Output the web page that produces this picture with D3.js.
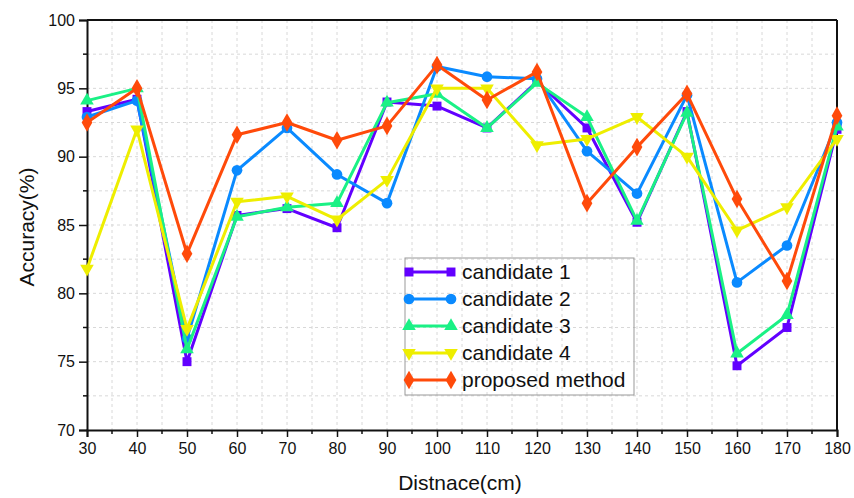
<!DOCTYPE html>
<html>
<head>
<meta charset="utf-8">
<script src="https://cdn.jsdelivr.net/npm/d3@7"></script>
<style>
  body { margin: 0; background: #fff; }
  text { font-family: "Liberation Sans", Arial, sans-serif; fill: #111; }
</style>
</head>
<body>
<svg id="chart" width="854" height="498"></svg>
<script>
// Chart data
const distances = [30, 40, 50, 60, 70, 80, 90, 100, 110, 120, 130, 140, 150, 160, 170, 180];
const candidate1 = [93.3, 94.2, 75.0, 85.7, 86.2, 84.8, 94.0, 93.7, 92.1, 95.5, 92.1, 85.2, 93.3, 74.7, 77.5, 92.0];
const candidate2 = [92.9, 94.1, 76.7, 89.0, 92.1, 88.7, 86.6, 96.6, 95.85, 95.7, 90.4, 87.3, 94.5, 80.8, 83.5, 92.5];
const candidate3 = [94.1, 95.0, 75.9, 85.6, 86.3, 86.6, 93.95, 94.6, 92.1, 95.4, 92.9, 85.3, 93.2, 75.6, 78.4, 92.2];
const candidate4 = [81.8, 92.0, 77.4, 86.7, 87.1, 85.4, 88.3, 95.0, 95.0, 90.85, 91.3, 92.9, 90.0, 84.6, 86.3, 91.3];
const proposed = [92.5, 95.0, 82.9, 91.6, 92.5, 91.2, 92.25, 96.7, 94.15, 96.2, 86.6, 90.7, 94.6, 86.9, 80.9, 93.0];
const seriesNames = ["candidate 1", "candidate 2", "candidate 3", "candidate 4", "proposed method"];
const xTicks = [30, 40, 50, 60, 70, 80, 90, 100, 110, 120, 130, 140, 150, 160, 170, 180];
const yTicks = [70, 75, 80, 85, 90, 95, 100];

const seriesValues = [candidate1, candidate2, candidate3, candidate4, proposed];
const colors = ["#6200FF", "#0A8AFF", "#1AF185", "#EEEE00", "#FF4A0A"];
const symbols = [d3.symbolSquare, d3.symbolCircle, d3.symbolTriangle, d3.symbolTriangle, d3.symbolDiamond];
const symbolRot = [0, 0, 0, 180, 0];
const symbolSize = [80, 90, 80, 80, 100];

const margin = { top: 20, right: 17, bottom: 68, left: 87 };
const svgEl = d3.select("#chart");
const width = 854 - margin.left - margin.right;
const height = 498 - margin.top - margin.bottom;

const g = svgEl.append("g").attr("transform", `translate(${margin.left},${margin.top})`);

const x = d3.scaleLinear().domain([30, 180]).range([0, width]);
const y = d3.scaleLinear().domain([70, 100]).range([height, 0]);

// --- Grid (major + minor) ---
const xGrid = d3.range(35, 180, 5);
const yGrid = d3.range(72.5, 100, 2.5);
g.selectAll(".vgrid").data(xGrid).enter().append("line")
  .attr("x1", d => x(d)).attr("x2", d => x(d))
  .attr("y1", 0).attr("y2", height)
  .attr("stroke", "#d8d8d8").attr("stroke-width", 1).attr("stroke-dasharray", "3,3");
g.selectAll(".hgrid").data(yGrid).enter().append("line")
  .attr("x1", 0).attr("x2", width)
  .attr("y1", d => y(d)).attr("y2", d => y(d))
  .attr("stroke", "#d8d8d8").attr("stroke-width", 1).attr("stroke-dasharray", "3,3");

// --- Axes ---
const xAxis = g.append("g").attr("transform", `translate(0,${height})`)
  .call(d3.axisBottom(x).tickValues(xTicks).tickFormat(d3.format("d")).tickSize(7).tickPadding(6));
const yAxis = g.append("g")
  .call(d3.axisLeft(y).tickValues(yTicks).tickSize(8).tickPadding(4));

[xAxis, yAxis].forEach(a => {
  a.select(".domain").attr("stroke", "#111").attr("stroke-width", 2);
  a.selectAll(".tick line").attr("stroke", "#111").attr("stroke-width", 1.5);
  a.selectAll("text").style("font-size", "16px").attr("fill", "#111");
});

// minor ticks
g.selectAll(".xminor").data(d3.range(35, 180, 10)).enter().append("line")
  .attr("x1", d => x(d)).attr("x2", d => x(d))
  .attr("y1", height).attr("y2", height + 4)
  .attr("stroke", "#111").attr("stroke-width", 1.5);
g.selectAll(".yminor").data(d3.range(72.5, 100, 5)).enter().append("line")
  .attr("x1", -4).attr("x2", 0)
  .attr("y1", d => y(d)).attr("y2", d => y(d))
  .attr("stroke", "#111").attr("stroke-width", 1.5);

// top and right frame
g.append("line").attr("x1", 0).attr("x2", width).attr("y1", 0).attr("y2", 0)
  .attr("stroke", "#111").attr("stroke-width", 2);
g.append("line").attr("x1", width).attr("x2", width).attr("y1", 0).attr("y2", height)
  .attr("stroke", "#111").attr("stroke-width", 2);

// --- Series ---
const line = d3.line().x((d, i) => x(distances[i])).y(d => y(d));

seriesValues.forEach((vals, s) => {
  g.append("path")
    .datum(vals)
    .attr("d", line)
    .attr("fill", "none")
    .attr("stroke", colors[s])
    .attr("stroke-width", 3)
    .attr("stroke-linejoin", "round");
  g.selectAll(".m" + s).data(vals).enter().append("path")
    .attr("d", d3.symbol().type(symbols[s]).size(symbolSize[s]))
    .attr("transform", (d, i) => `translate(${x(distances[i])},${y(d)}) rotate(${symbolRot[s]})`)
    .attr("fill", colors[s]);
});

// --- Axis titles ---
svgEl.append("text")
  .attr("x", 460).attr("y", 490)
  .attr("text-anchor", "middle")
  .style("font-size", "21px")
  .text("Distnace(cm)");
svgEl.append("text")
  .attr("transform", "translate(34,227) rotate(-90)")
  .attr("text-anchor", "middle")
  .style("font-size", "21px")
  .text("Accuracy(%)");

// --- Legend ---
const legend = svgEl.append("g").attr("transform", "translate(405,258)");
legend.append("rect")
  .attr("x", 0).attr("y", 0).attr("width", 229).attr("height", 137)
  .attr("fill", "none").attr("stroke", "#999").attr("stroke-width", 1);
seriesNames.forEach((name, s) => {
  const ly = 14 + s * 27;
  legend.append("line")
    .attr("x1", 4).attr("x2", 46).attr("y1", ly).attr("y2", ly)
    .attr("stroke", colors[s]).attr("stroke-width", 3);
  [4, 46].forEach(mx => {
    legend.append("path")
      .attr("d", d3.symbol().type(symbols[s]).size(symbolSize[s]))
      .attr("transform", `translate(${mx},${ly}) rotate(${symbolRot[s]})`)
      .attr("fill", colors[s]);
  });
  legend.append("text")
    .attr("x", 57).attr("y", ly + 7)
    .style("font-size", "21px")
    .text(name);
});
</script>
</body>
</html>
